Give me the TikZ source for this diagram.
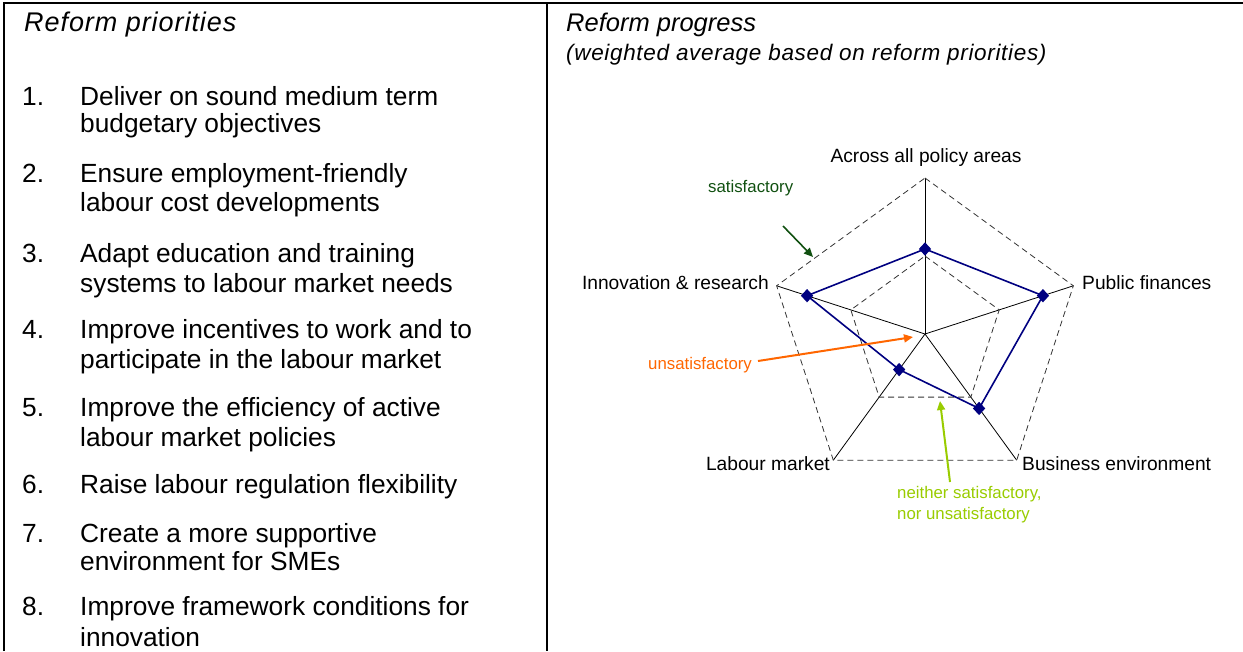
\documentclass[tikz,border=0pt]{standalone}
\usepackage{fontspec}
\setmainfont{Liberation Sans}
\usetikzlibrary{arrows.meta,shapes.geometric}
\definecolor{navyblue}{RGB}{0,0,128}
\definecolor{satgreen}{RGB}{16,80,16}
\definecolor{unsorange}{RGB}{255,102,0}
\definecolor{neigreen}{RGB}{153,204,0}
\tikzset{
  frame/.style={line width=2pt,black},
  listtxt/.style={anchor=base west,inner sep=0pt,font=\fontsize{26.3}{29}\selectfont},
  titletxt/.style={anchor=base west,inner sep=0pt,font=\fontsize{25.5}{29}\selectfont\itshape},
  lefttitle/.style={anchor=base west,inner sep=0pt,font=\fontsize{27}{31}\selectfont\itshape\addfontfeatures{LetterSpace=3.5}},
  subtxt/.style={anchor=base west,inner sep=0pt,font=\fontsize{22.5}{25}\selectfont\itshape\addfontfeatures{LetterSpace=3}},
  axislbl/.style={inner sep=0pt,font=\fontsize{19.2}{22}\selectfont},
  annot/.style={inner sep=0pt,font=\fontsize{16.8}{21}\selectfont},
  axisline/.style={black,line width=0.8pt},
  gridline/.style={black!80,line width=0.8pt,dash pattern=on 6pt off 4pt},
  dataline/.style={navyblue,line width=1.6pt},
  dmark/.style={diamond,fill=navyblue,inner sep=0pt,minimum width=12.5pt,minimum height=13.5pt},
  arr/.style={line width=2pt,-{Triangle[length=9pt,width=8pt]}}
}
\begin{document}
\begin{tikzpicture}[x=1pt,y=-1pt]
\useasboundingbox (0,0) rectangle (1243,651);
% frame
\draw[frame] (4,651) -- (4,3) -- (1243,3);
\draw[frame] (547,3) -- (547,651);
% left column
\node[lefttitle] (t1) at (24,31) {Reform priorities};
\node[listtxt] (n1) at (22,105) {1.};
\node[listtxt] (a1) at (80,105) {Deliver on sound medium term};
\node[listtxt] (b1) at (80,132) {budgetary objectives};
\node[listtxt] (n2) at (22,182) {2.};
\node[listtxt] (a2) at (80,182) {Ensure employment-friendly};
\node[listtxt] (b2) at (80,211) {labour cost developments};
\node[listtxt] (n3) at (22,262) {3.};
\node[listtxt] (a3) at (80,262) {Adapt education and training};
\node[listtxt] (b3) at (80,292) {systems to labour market needs};
\node[listtxt] (n4) at (22,338) {4.};
\node[listtxt] (a4) at (80,338) {Improve incentives to work and to};
\node[listtxt] (b4) at (80,368) {participate in the labour market};
\node[listtxt] (n5) at (22,416) {5.};
\node[listtxt] (a5) at (80,416) {Improve the efficiency of active};
\node[listtxt] (b5) at (80,446) {labour market policies};
\node[listtxt] (n6) at (22,493) {6.};
\node[listtxt] (a6) at (80,493) {Raise labour regulation flexibility};
\node[listtxt] (n7) at (22,542) {7.};
\node[listtxt] (a7) at (80,542) {Create a more supportive};
\node[listtxt] (b7) at (80,570) {environment for SMEs};
\node[listtxt] (n8) at (22,615) {8.};
\node[listtxt] (a8) at (80,615) {Improve framework conditions for};
\node[listtxt] (b8) at (80,646) {innovation};
% right column titles
\node[titletxt] (t2) at (566,31) {Reform progress};
\node[subtxt] (t3) at (566,60) {(weighted average based on reform priorities)};
% radar chart
\coordinate (C) at (925,334);
\path (C) ++(-90:156) coordinate (V1);
\path (C) ++(-18:156) coordinate (V2);
\path (C) ++(54:156) coordinate (V3);
\path (C) ++(126:156) coordinate (V4);
\path (C) ++(-162:156) coordinate (V5);
\path (C) ++(-90:78) coordinate (H1);
\path (C) ++(-18:78) coordinate (H2);
\path (C) ++(54:78) coordinate (H3);
\path (C) ++(126:78) coordinate (H4);
\path (C) ++(-162:78) coordinate (H5);
\path (C) ++(-90:85) coordinate (P1);
\path (C) ++(-18:124) coordinate (P2);
\path (C) ++(54:92) coordinate (P3);
\path (C) ++(126:44) coordinate (P4);
\path (C) ++(-162:124) coordinate (P5);
\foreach \v in {V1,V2,V3,V4,V5} \draw[axisline] (C) -- (\v);
\draw[gridline] (V1) -- (V2) -- (V3) -- (V4) -- (V5) -- cycle;
\draw[gridline] (H1) -- (H2) -- (H3) -- (H4) -- (H5) -- cycle;
\draw[dataline] (P1) -- (P2) -- (P3) -- (P4) -- (P5) -- cycle;
\foreach \p in {P1,P2,P3,P4,P5} \node[dmark] (m\p) at (\p) {};
% axis labels
\node[axislbl,anchor=base] (l1) at (926,162) {Across all policy areas};
\node[axislbl,anchor=base west] (l2) at (1082,289) {Public finances};
\node[axislbl,anchor=base west] (l3) at (1022,470) {Business environment};
\node[axislbl,anchor=base east] (l4) at (830,470) {Labour market};
\node[axislbl,anchor=base east] (l5) at (769,289) {Innovation \& research};
% annotations
\node[annot,anchor=base west,text=satgreen] (s1) at (708,192) {satisfactory};
\node[annot,anchor=base west,text=unsorange] (s2) at (648,369) {unsatisfactory};
\node[annot,anchor=base west,text=neigreen] (s3) at (897,498) {neither satisfactory,};
\node[annot,anchor=base west,text=neigreen] (s4) at (897,519) {nor unsatisfactory};
\coordinate (sa) at (783,226);
\coordinate (sb) at (813,257);
\coordinate (ua) at (758,361);
\coordinate (ub) at (913,337);
\coordinate (na) at (950,482);
\coordinate (nb) at (940,401);
\draw[arr,satgreen,line width=1.6pt] (sa) -- (sb);
\draw[arr,unsorange] (ua) -- (ub);
\draw[arr,neigreen] (na) -- (nb);
\end{tikzpicture}
\end{document}
